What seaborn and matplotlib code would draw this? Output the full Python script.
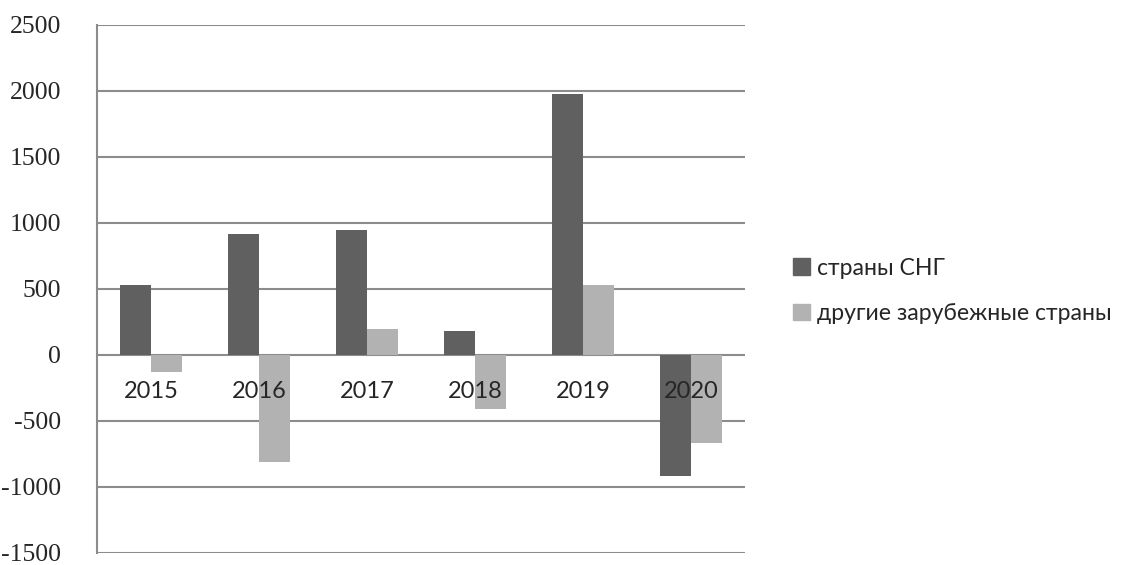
import pandas as pd
import seaborn as sns
import matplotlib.pyplot as plt

# Values
years = ["2015", "2016", "2017", "2018", "2019", "2020"]
cis = [531, 916, 946, 182, 1976, -921]
other = [-130, -813, 195, -409, 526, -672]
series_names = ["страны СНГ", "другие зарубежные страны"]
colors = ["#606060", "#b2b2b2"]

df = pd.DataFrame({
    "year": years * 2,
    "value": cis + other,
    "group": [series_names[0]] * len(years) + [series_names[1]] * len(years),
})

sns.set_style("white")
plt.rcParams["axes.unicode_minus"] = False
fig = plt.figure(figsize=(11.22, 5.65), dpi=100)
ax = fig.add_axes([0.0865, 0.022, 0.5775, 0.934])

sns.barplot(data=df, x="year", y="value", hue="group", palette=colors,
            width=0.57, linewidth=0, ax=ax, legend=False)

ax.set_ylim(-1500, 2500)
ax.set_xlim(-0.5, 5.5)
ax.set_yticks(range(-1500, 2501, 500))
ax.yaxis.grid(True, color="#8c8c8c", linewidth=1.5)
ax.set_axisbelow(True)
# year labels sit on top of the bars, like in the original
ax.xaxis.set_zorder(5)
ax.set_xlabel("")
ax.set_ylabel("")

for s in ["top", "right", "bottom"]:
    ax.spines[s].set_visible(False)
ax.spines["left"].set_color("#8c8c8c")
ax.spines["left"].set_linewidth(1.5)
ax.spines["bottom"].set_position(("data", 0))

ax.tick_params(axis="y", length=0, pad=26)
ax.tick_params(axis="x", length=0, pad=19)
for lbl in ax.get_yticklabels():
    lbl.set_fontfamily("Liberation Serif")
    lbl.set_fontsize(18.5)
for lbl in ax.get_xticklabels():
    lbl.set_fontfamily("Lato")
    lbl.set_fontsize(17)

handles = [plt.Rectangle((0, 0), 1, 1, color=c) for c in colors]
fig.legend(handles, series_names, loc="center left", bbox_to_anchor=(0.688, 0.485),
           frameon=False, handlelength=0.75, handleheight=0.75, handletextpad=0.3,
           labelspacing=1.05, prop={"family": "Lato", "size": 16.6})

plt.savefig("out.png", dpi=100)
plt.close()
